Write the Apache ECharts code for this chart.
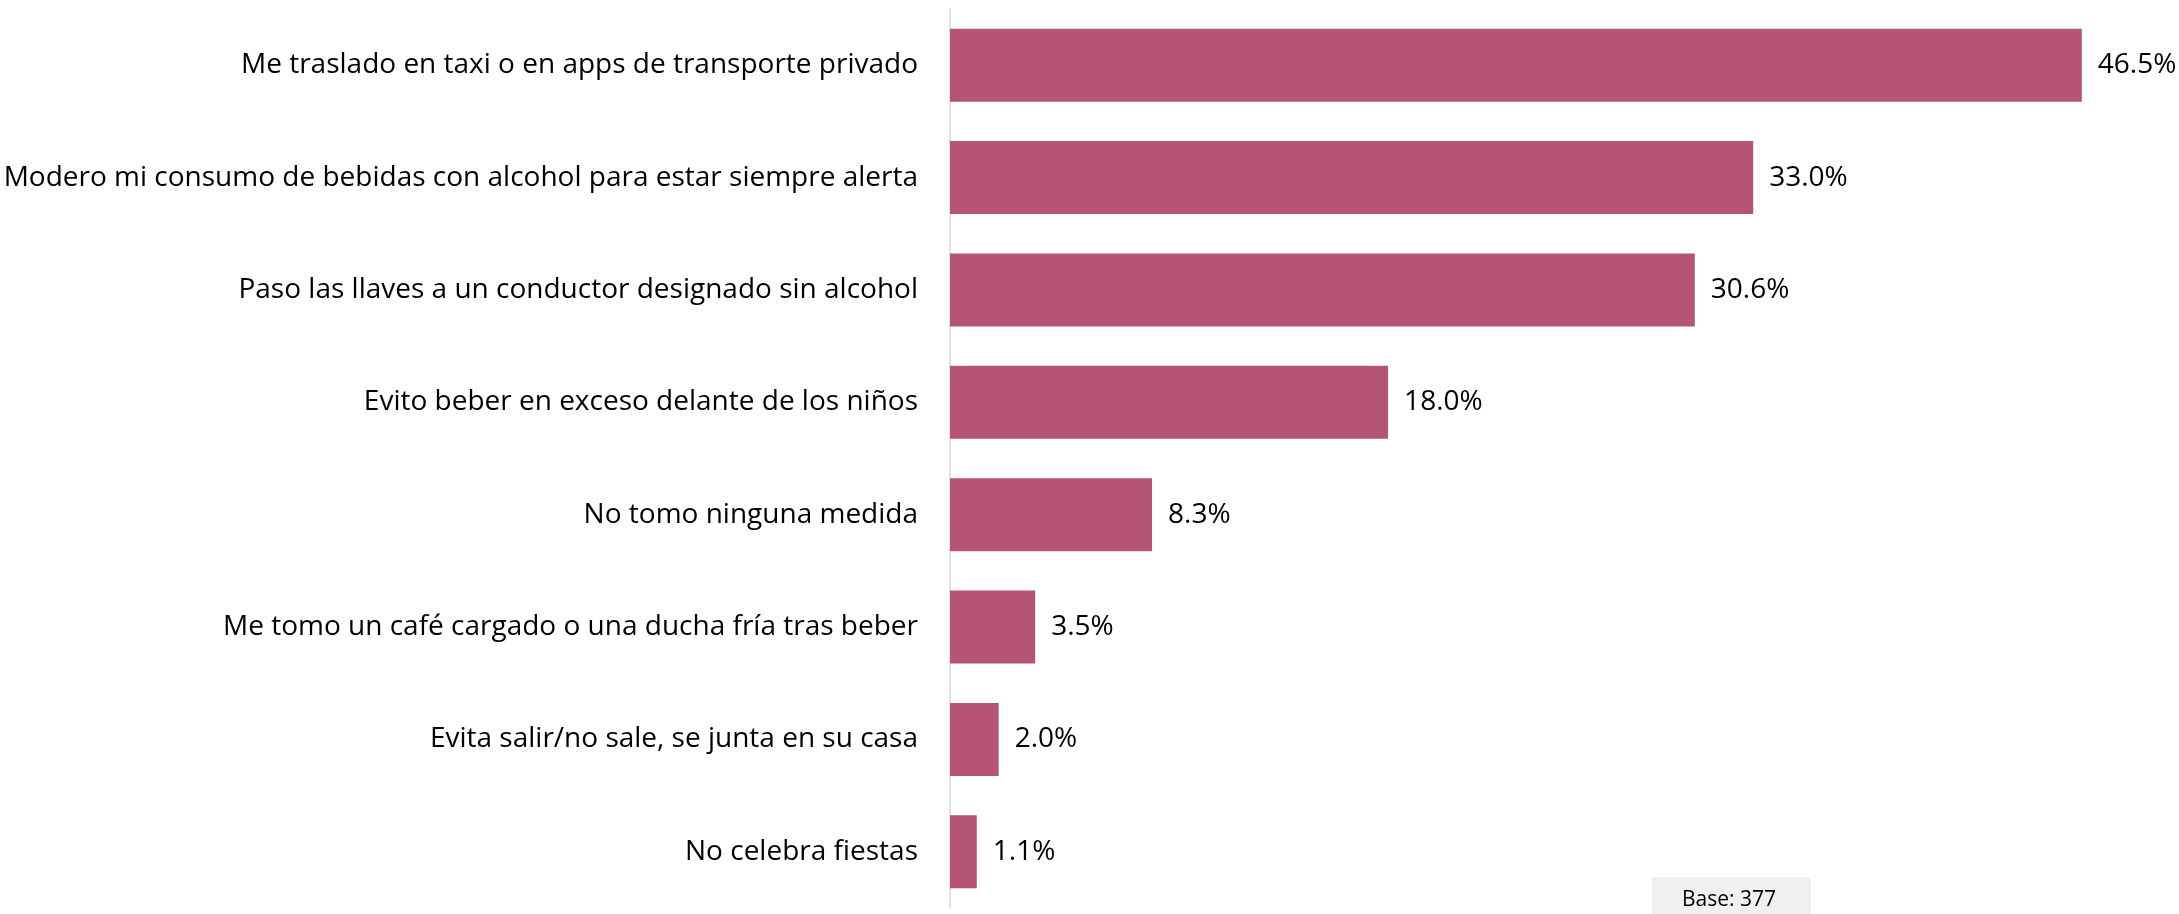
<!DOCTYPE html>
<html>
<head>
<meta charset="utf-8">
<script src="https://cdn.jsdelivr.net/npm/echarts@6/dist/echarts.min.js"></script>
<style>
  html, body { margin: 0; padding: 0; background: #fff; }
  #chart { width: 2179px; height: 914px; }
</style>
</head>
<body>
<div id="chart"></div>
<script>
// categories, top to bottom
const categories = [
  "Me traslado en taxi o en apps de transporte privado",
  "Modero mi consumo de bebidas con alcohol para estar siempre alerta",
  "Paso las llaves a un conductor designado sin alcohol",
  "Evito beber en exceso delante de los niños",
  "No tomo ninguna medida",
  "Me tomo un café cargado o una ducha fría tras beber",
  "Evita salir/no sale, se junta en su casa",
  "No celebra fiestas"
];
const values = [46.5, 33.0, 30.6, 18.0, 8.3, 3.5, 2.0, 1.1];
const baseText = "Base: 377";

const font = "'Open Sans', 'Noto Sans', sans-serif";
const chart = echarts.init(document.getElementById("chart"));

chart.setOption({
  animation: false,
  grid: { left: 950, top: 9, width: 1217, height: 899, containLabel: false },
  xAxis: {
    type: "value",
    min: 0,
    max: 50,
    show: false
  },
  yAxis: {
    type: "category",
    inverse: true,
    data: categories,
    axisLine: { show: true, lineStyle: { color: "#d9d9d9", width: 1.5 } },
    axisTick: { show: false },
    axisLabel: {
      color: "#000",
      fontSize: 28,
      fontFamily: font,
      margin: 32,
      padding: [4, 0, 0, 0]
    }
  },
  series: [
    {
      type: "bar",
      data: values,
      barCategoryGap: "35%",
      itemStyle: { color: "#b55473" },
      label: {
        show: true,
        position: "right",
        distance: 16,
        color: "#000",
        fontSize: 28,
        fontFamily: font,
        padding: [4, 0, 0, 0],
        formatter: (p) => p.value.toFixed(1) + "%"
      }
    }
  ],
  graphic: [
    {
      type: "rect",
      left: 1652,
      top: 877,
      shape: { width: 159, height: 40 },
      style: { fill: "#f0f0f0" }
    },
    {
      type: "text",
      left: 1682,
      top: 890,
      style: { text: baseText, fontSize: 21, fontFamily: font, fill: "#000" }
    }
  ]
});
</script>
</body>
</html>
